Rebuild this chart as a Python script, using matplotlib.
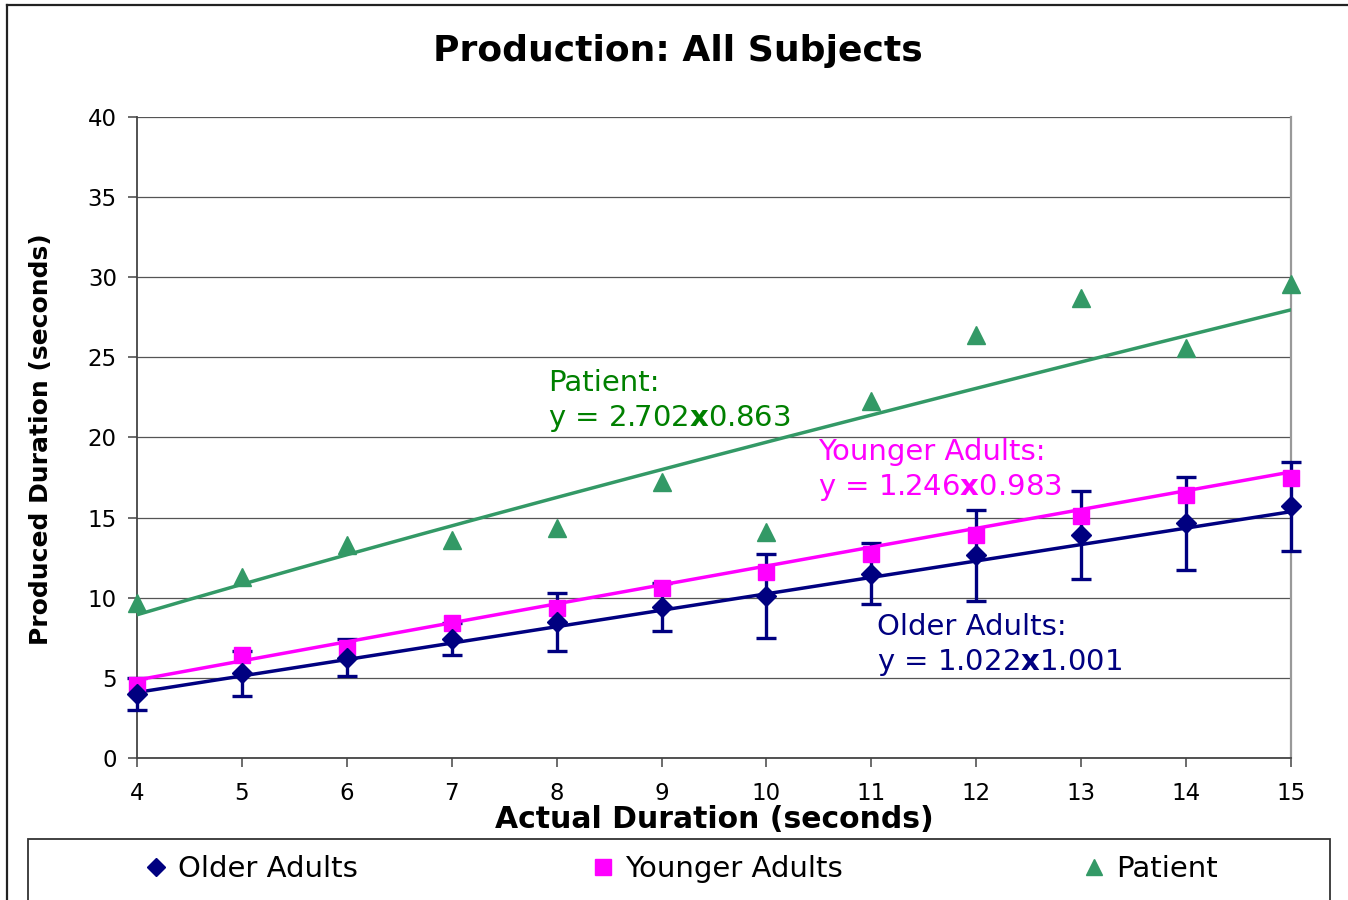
import numpy as np
import matplotlib
matplotlib.use("Agg")
import matplotlib.pyplot as plt
from matplotlib.lines import Line2D
from matplotlib.patches import Rectangle

# ---------------- data ----------------
durations = [4, 5, 6, 7, 8, 9, 10, 11, 12, 13, 14, 15]
older = [4.0, 5.3, 6.25, 7.4, 8.5, 9.4, 10.1, 11.5, 12.65, 13.9, 14.65, 15.7]
older_err = [1.0, 1.4, 1.15, 1.0, 1.8, 1.5, 2.6, 1.9, 2.85, 2.75, 2.9, 2.8]
younger = [4.55, 6.4, 6.85, 8.4, 9.35, 10.6, 11.6, 12.75, 13.9, 15.1, 16.4, 17.45]
patient = [9.65, 11.3, 13.3, 13.6, 14.35, 17.2, 14.1, 22.3, 26.4, 28.7, 25.6, 29.55]

# power trendline coefficients shown on the chart: y = a * x^b
older_fit = [1.022, 1.001]
younger_fit = [1.246, 0.983]
patient_fit = [2.702, 0.863]

series_names = ["Older Adults", "Younger Adults", "Patient"]
y_ticks = [0, 5, 10, 15, 20, 25, 30, 35, 40]

# ---------------- style ----------------
NAVY = "#000080"
MAGENTA = "#FF00FF"
GREEN = "#339966"
TEXT_GREEN = "#008000"

W, H = 1348, 900
plt.rcParams["font.family"] = ["DejaVu Sans"]
plt.rcParams["mathtext.fontset"] = "dejavusans"

fig = plt.figure(figsize=(W / 100, H / 100), dpi=100)
fig.patch.set_facecolor("white")

ax = fig.add_axes([137 / W, 1 - 758 / H, (1291 - 137) / W, (758 - 117) / H])
ax.set_xlim(4, 15)
ax.set_ylim(0, 40)
ax.set_xticks(durations)
ax.set_yticks(y_ticks)
ax.yaxis.grid(True, color="#555555", lw=0.9)
ax.set_axisbelow(True)

for s in ["left", "bottom"]:
    ax.spines[s].set_color("#444444")
    ax.spines[s].set_linewidth(1.3)
ax.spines["right"].set_color("#999999")
ax.spines["right"].set_linewidth(1.6)
ax.spines["top"].set_visible(False)

ax.tick_params(axis="both", direction="out", length=6.5, width=1.1,
               color="#444444", labelsize=16.5, labelcolor="black")
ax.tick_params(axis="y", pad=8)
ax.tick_params(axis="x", pad=11)

# error bars (older adults)
ax.errorbar(durations, older, yerr=older_err, fmt="none", ecolor=NAVY,
            elinewidth=2.4, capsize=7, capthick=2.4, zorder=3, clip_on=False)

# trendlines
xs = np.linspace(durations[0], durations[-1], 200)
for fit, col in [(older_fit, NAVY), (younger_fit, MAGENTA), (patient_fit, GREEN)]:
    ax.plot(xs, fit[0] * xs ** fit[1], color=col, lw=2.5, zorder=4)

# markers
h_old, = ax.plot(durations, older, "D", ms=10.5, color=NAVY, zorder=6, clip_on=False)
h_young, = ax.plot(durations, younger, "s", ms=12, color=MAGENTA, zorder=5, clip_on=False)
h_pat, = ax.plot(durations, patient, "^", ms=13.5, color=GREEN, zorder=5, clip_on=False)

# equation annotations
def eq(fit):
    return "y = %.3f$\\mathbf{x}$%.3f" % (fit[0], fit[1])

FS_ANN = 21
ax.text(7.92, 23.4, "Patient:", color=TEXT_GREEN, fontsize=FS_ANN, va="center", ha="left")
ax.text(7.92, 21.2, eq(patient_fit), color=TEXT_GREEN, fontsize=FS_ANN, va="center", ha="left")
ax.text(10.49, 19.1, "Younger Adults:", color=MAGENTA, fontsize=FS_ANN, va="center", ha="left")
ax.text(10.49, 16.85, eq(younger_fit), color=MAGENTA, fontsize=FS_ANN, va="center", ha="left")
ax.text(11.05, 8.17, "Older Adults:", color=NAVY, fontsize=FS_ANN, va="center", ha="left")
ax.text(11.05, 5.93, eq(older_fit), color=NAVY, fontsize=FS_ANN, va="center", ha="left")

# titles
fig.text(678 / W, 1 - 51 / H, "Production: All Subjects", ha="center", va="center",
         fontsize=26, fontweight="bold")
fig.text(714 / W, 1 - 820 / H, "Actual Duration (seconds)", ha="center", va="center",
         fontsize=21.5, fontweight="bold")
fig.text(41 / W, 1 - 439 / H, "Produced Duration (seconds)", ha="center", va="center",
         fontsize=18, fontweight="bold", rotation=90)

# outer chart frame (left and top edges visible)
fig.add_artist(Line2D([7 / W, 7 / W], [0, 1 - 5 / H], color="#222222", lw=1.6,
                      transform=fig.transFigure))
fig.add_artist(Line2D([7 / W, 1.0], [1 - 5 / H, 1 - 5 / H], color="#222222", lw=1.6,
                      transform=fig.transFigure))

# legend box
fig.add_artist(Rectangle((28 / W, -0.02), (1330 - 28) / W, 1 - 839 / H + 0.02,
                         fill=False, ec="#333333", lw=1.3, transform=fig.transFigure))

legend_specs = [
    (Line2D([], [], marker="D", ls="none", color=NAVY, ms=9), series_names[0], 144),
    (Line2D([], [], marker="s", ls="none", color=MAGENTA, ms=11), series_names[1], 591),
    (Line2D([], [], marker="^", ls="none", color=GREEN, ms=12), series_names[2], 1082),
]
for handle, label, xpix in legend_specs:
    fig.legend(handles=[handle], labels=[label], loc="center left",
               bbox_to_anchor=(xpix / W, 1 - 869 / H), frameon=False, fontsize=21,
               handlelength=0.8, handletextpad=0.36, borderpad=0, borderaxespad=0)

fig.savefig("out.png", dpi=100)
